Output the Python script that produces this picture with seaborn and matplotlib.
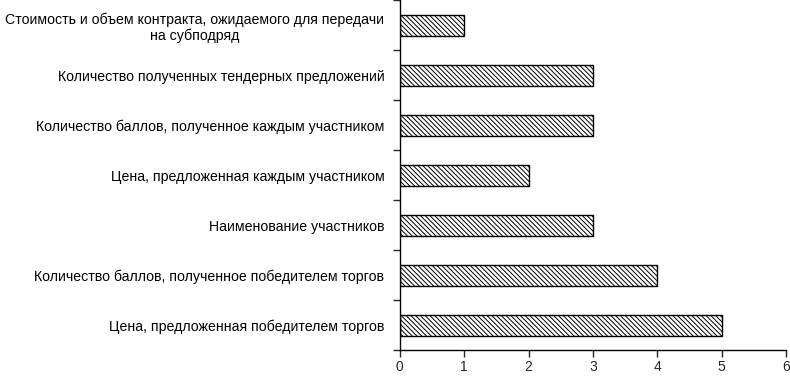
import numpy as np
import pandas as pd
import seaborn as sns
from matplotlib import pyplot as plt

categories = [
    "Стоимость и объем контракта, ожидаемого для передачи\nна субподряд",
    "Количество полученных тендерных предложений",
    "Количество баллов, полученное каждым участником",
    "Цена, предложенная каждым участником",
    "Наименование участников",
    "Количество баллов, полученное победителем торгов",
    "Цена, предложенная победителем торгов",
]
values = [1, 3, 3, 2, 3, 4, 5]

df = pd.DataFrame({"cat": categories, "val": values})

sns.set_style("ticks")
plt.rcParams['font.family'] = ['Liberation Sans', 'DejaVu Sans']
plt.rcParams['hatch.linewidth'] = 0.7

fig = plt.figure(figsize=(7.9, 3.78), dpi=100)
ax = fig.add_axes([0.506, 0.074, 0.489, 0.926])
sns.barplot(data=df, x="val", y="cat", orient="h", color="white",
            edgecolor="black", linewidth=1.0, width=0.42, ax=ax)
for p in ax.patches:
    p.set_hatch("\\" * 7)

ax.set_xlim(0, 6)
ax.set_ylim(len(categories) - 0.5, -0.5)
ax.set_xticks(range(0, 7))
ax.set_xlabel("")
ax.set_ylabel("")
ax.set_yticks(range(len(categories)))
ax.set_yticklabels(categories, multialignment="center")
ax.set_yticks(np.arange(-0.5, len(categories), 1), minor=True)
ax.tick_params(axis="y", which="major", length=0, pad=11, labelsize=10.2, colors="black")
ax.tick_params(axis="y", which="minor", length=5, width=1, direction="out")
ax.tick_params(axis="x", length=5, width=1, direction="out", labelsize=10, pad=2)
for s in ["top", "right"]:
    ax.spines[s].set_visible(False)
for s in ["left", "bottom"]:
    ax.spines[s].set_color("black")
    ax.spines[s].set_linewidth(1)

fig.savefig("out.png", dpi=100)
